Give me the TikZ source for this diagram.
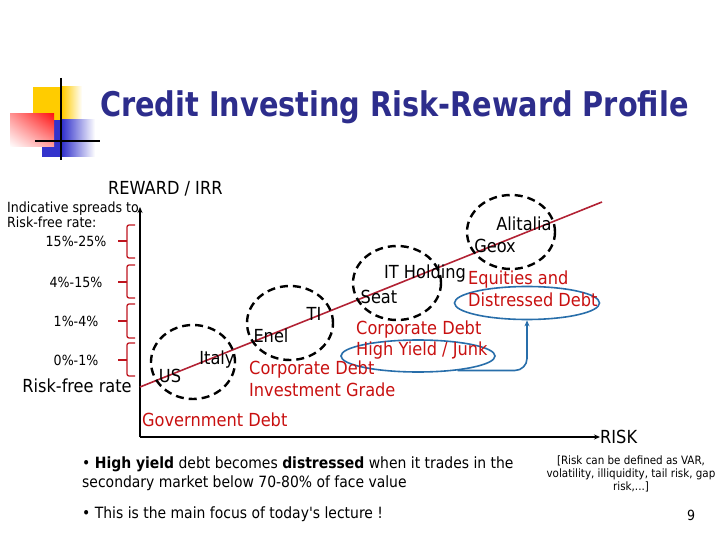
\documentclass[tikz,border=0pt]{standalone}
\usepackage{fontspec}
\setmainfont{DejaVu Sans Condensed}
\usepackage{tikz}
\usetikzlibrary{shapes.geometric,arrows.meta,shadings}

\definecolor{titleblue}{RGB}{45,45,140}
\definecolor{labelred}{RGB}{200,16,16}
\definecolor{linered}{RGB}{178,34,52}
\definecolor{bracered}{RGB}{190,20,30}
\definecolor{ringblue}{RGB}{40,110,170}
\definecolor{decoyellow}{RGB}{255,204,0}
\definecolor{decoblue}{RGB}{51,51,204}
\definecolor{decored}{RGB}{255,20,20}

\begin{document}
\begin{tikzpicture}[x=1pt, y=-1pt,
    lbl/.style={inner sep=0pt, font=\fontsize{18}{21}\selectfont},
    redlbl/.style={lbl, text=labelred, anchor=west},
    spread/.style={inner sep=0pt, font=\fontsize{14}{17}\selectfont},
    ring/.style={draw=black, line width=2.4pt, dash pattern=on 8pt off 5pt},
    blring/.style={draw=ringblue, line width=1.6pt, ellipse, inner sep=0pt},
    bracket/.style={draw=bracered, line width=1.3pt, rounded corners=2pt}]
    \useasboundingbox (0,0) rectangle (720,540);

    % Title decoration
    \fill[decoyellow] (33,87) rectangle (62,120);
    \shade[left color=decoyellow, right color=white] (62,87) rectangle (82,120);
    \fill[decoblue] (42,120) rectangle (62,157);
    \shade[left color=decoblue, right color=white] (62,120) rectangle (95,157);
    \shade[upper right=decored, upper left=decored!45!white,
           lower right=decored!40!white, lower left=white] (10,114) rectangle (54,147);
    \draw[line width=1.5pt] (61,78) -- (61,160);
    \draw[line width=1.5pt] (35,141) -- (100,141);

    % Title
    \node[anchor=base west, inner sep=0pt, text=titleblue,
          font=\bfseries\fontsize{34}{40}\selectfont] (title) at (100,117)
          {\scalebox{0.94}[1]{Credit Investing Risk-Reward Profile}};

    % Axes
    \coordinate (origin) at (140,437);
    \coordinate (ytop) at (140,207);
    \coordinate (xend) at (600,437);
    \draw[line width=1.6pt, -{Stealth[length=6pt,width=5pt]}] (origin) -- (ytop);
    \draw[line width=1.6pt, -{Stealth[length=6pt,width=5pt]}] (origin) -- (xend);
    \node[lbl, anchor=west] (risk) at (xend) {RISK};
    \node[lbl, anchor=base west] (reward) at (108,195) {REWARD / IRR};

    % Spreads on the left
    \node[spread, anchor=base west] (indic) at (7,212) {Indicative spreads to};
    \node[spread, anchor=base west] (rfcolon) at (7,228) {Risk-free rate:};
    \node[spread] (spreadA) at (76,241) {15\%-25\%};
    \node[spread] (spreadB) at (76,282) {4\%-15\%};
    \node[spread] (spreadC) at (76,321) {1\%-4\%};
    \node[spread] (spreadD) at (76,360) {0\%-1\%};
    \node[lbl] (rfrate) at (77,386) {Risk-free rate};

    % Brackets
    \draw[bracket] (135,225) -- (127,225) -- (127,258) -- (135,258);
    \draw[bracket] (118,241) -- (127,241);
    \draw[bracket] (135,265) -- (127,265) -- (127,298) -- (135,298);
    \draw[bracket] (118,282) -- (127,282);
    \draw[bracket] (135,304) -- (127,304) -- (127,338) -- (135,338);
    \draw[bracket] (118,321) -- (127,321);
    \draw[bracket] (135,343) -- (127,343) -- (127,376) -- (135,376);
    \draw[bracket] (118,360) -- (127,360);

    % Risk-reward line
    \coordinate (rfstart) at (140,387);
    \coordinate (rfend) at (602,202);
    \draw[linered, line width=1.6pt] (rfstart) -- (rfend);

    % Dashed groups
    \draw[ring] (193,362) ellipse [x radius=42pt, y radius=37pt];
    \draw[ring] (290,323) ellipse [x radius=43pt, y radius=37pt];
    \draw[ring] (397,283) ellipse [x radius=44pt, y radius=37pt];
    \draw[ring] (511,232) ellipse [x radius=44pt, y radius=37pt];

    % High yield to distressed
    \node[blring, minimum width=154pt, minimum height=32pt] (hyring) at (418,356) {};
    \node[blring, minimum width=145pt, minimum height=33pt] (ddring) at (527,303) {};
    \draw[ringblue, line width=1.6pt, rounded corners=12pt,
          -{Stealth[length=6pt,width=5pt]}] (hyring.-20) -| (ddring.south);

    % Names
    \node[lbl] (us) at (170,376) {US};
    \node[lbl] (italy) at (217,360) {Italy};
    \node[lbl] (enel) at (271,336) {Enel};
    \node[lbl] (ti) at (314,314) {TI};
    \node[lbl] (seat) at (379,297) {Seat};
    \node[lbl] (itholding) at (425,274) {IT Holding};
    \node[lbl] (geox) at (495,246) {Geox};
    \node[lbl] (alitalia) at (524,224) {Alitalia};

    % Classes
    \node[redlbl] (igA) at (249,370) {Corporate Debt};
    \node[redlbl] (igB) at (249,390) {Investment Grade};
    \node[redlbl] (hyA) at (356,330) {Corporate Debt};
    \node[redlbl] (hyB) at (356,351) {High Yield / Junk};
    \node[redlbl] (ddA) at (468,280) {Equities and};
    \node[redlbl] (ddB) at (468,300) {Distressed Debt};
    \node[redlbl] (govt) at (142,420) {Government Debt};

    % Notes
    \node[anchor=west, inner sep=0pt, align=left, font=\fontsize{15.5}{19}\selectfont]
          (noteA) at (82,474) {\textbullet{} \textbf{High yield} debt becomes \textbf{distressed} when it trades in the\\secondary market below 70-80\% of face value};
    \node[anchor=west, inner sep=0pt, font=\fontsize{15.5}{19}\selectfont]
          (noteB) at (82,514) {\textbullet{} This is the main focus of today\textquotesingle s lecture !};
    \node[align=center, inner sep=0pt, font=\fontsize{11.5}{13}\selectfont]
          (riskdef) at (631,474) {[Risk can be defined as VAR,\\volatility, illiquidity, tail risk, gap\\risk,...]};
    \node[spread] (pagenum) at (691,515) {9};
\end{tikzpicture}
\end{document}
